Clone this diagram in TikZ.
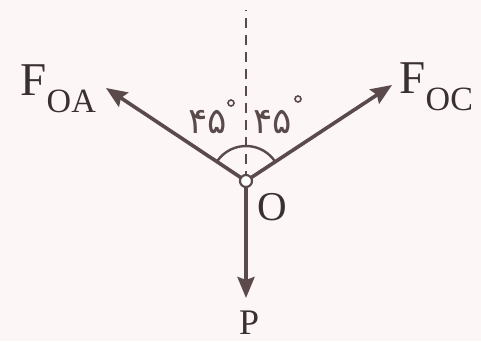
\documentclass[tikz,border=0pt]{standalone}
\usepackage{fontspec}
\setmainfont{Liberation Serif}
\newfontfamily\arabicfont[Script=Arabic]{DejaVu Sans}
\usetikzlibrary{arrows.meta}
\definecolor{ink}{HTML}{5A4A4C}
\definecolor{txt}{HTML}{3A3032}
\definecolor{bg}{HTML}{FDF6F6}
\begin{document}
\begin{tikzpicture}[x=1pt,y=1pt,
 force/.style={ink, line width=3.6pt, -{Stealth[length=21pt,width=17pt,inset=3pt]}},
 lbl/.style={text=txt, inner sep=0pt, anchor=base west},
 deg/.style={text=ink, inner sep=0pt, anchor=base west, font=\arabicfont\fontsize{36}{36}\selectfont},
 degc/.style={circle, draw=ink, line width=1.6pt, minimum size=6pt, inner sep=0pt},
]
\fill[bg] (0,0) rectangle (481,341);
\useasboundingbox (0,0) rectangle (481,341);
\coordinate (Oc) at (246,160);
\coordinate (A) at (106,253);
\coordinate (C) at (392,256);
\coordinate (P) at (246,43);
\coordinate (T) at (246,331);
\draw[ink, line width=2.5pt, dash pattern=on 10pt off 7pt] (Oc) -- (T);
\draw[force] (Oc) -- (A);
\draw[force] (Oc) -- (C);
\draw[force] (Oc) -- (P);
\draw[ink, line width=2.4pt] (Oc) ++(146:35) arc[start angle=146, end angle=34, radius=35];
\node[circle, draw=ink, line width=2.2pt, fill=white, minimum size=12pt, inner sep=0pt] (O) at (Oc) {};
\node[lbl, font=\fontsize{47}{47}\selectfont] (FA) at (20,246) {F};
\node[lbl, font=\fontsize{34}{34}\selectfont] (FAs) at (FA.base east) [yshift=-17pt] {OA};
\node[lbl, font=\fontsize{47}{47}\selectfont] (FC) at (399,248) {F};
\node[lbl, font=\fontsize{34}{34}\selectfont] (FCs) at (FC.base east) [yshift=-17pt] {OC};
\node[lbl, font=\fontsize{41}{41}\selectfont] (Ol) at (257,121) {O};
\node[lbl, font=\fontsize{36}{36}\selectfont] (Pl) at (239,7) {P};
\node[deg] (d1) at (188,208) {۴۵};
\node[degc] (o1) at (231,238) {};
\node[deg] (d2) at (253,208) {۴۵};
\node[degc] (o2) at (298,242) {};
\end{tikzpicture}
\end{document}
